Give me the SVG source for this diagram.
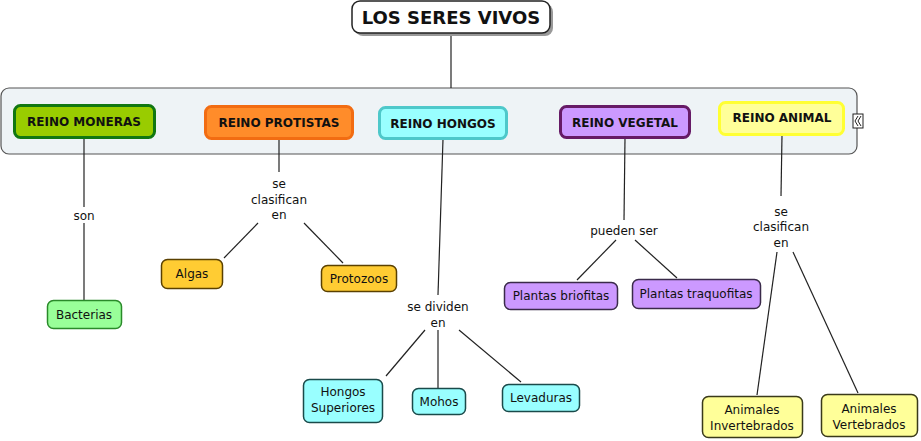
<svg xmlns="http://www.w3.org/2000/svg" width="921" height="441" viewBox="0 0 921 441">
<style>
text{font-family:"DejaVu Sans","Verdana",sans-serif;fill:#111;text-anchor:middle}
.lbl{font-size:12px}
.nt{font-size:12px}
.rt{font-size:12px;font-weight:bold}
.conn line{stroke:#222;stroke-width:1.2}
.rn{stroke-width:3}
.n{stroke-width:1.5}
</style>
<rect x="0" y="0" width="921" height="441" fill="#fff"/>
<g id="container">
<rect x="1" y="88" width="856" height="66" rx="8" fill="#eef3f6" stroke="#555" stroke-width="1.2"/>
<rect x="853" y="114" width="10" height="14" fill="#fff" stroke="#222" stroke-width="1"/>
<path d="M858 116 L855 121 L858 126 M861 116 L858 121 L861 126" fill="none" stroke="#222" stroke-width="1"/>
</g>
<g class="conn" id="connectors">
<line x1="451" y1="34" x2="451" y2="88"/>
<line x1="84" y1="138" x2="84" y2="207"/>
<line x1="84" y1="223" x2="84" y2="300"/>
<line x1="279" y1="139" x2="279" y2="172"/>
<line x1="258" y1="223" x2="224" y2="258"/>
<line x1="304" y1="223" x2="343" y2="263"/>
<line x1="443" y1="139" x2="438" y2="295"/>
<line x1="425" y1="330" x2="386" y2="376"/>
<line x1="438" y1="330" x2="438" y2="388"/>
<line x1="459" y1="330" x2="521" y2="382"/>
<line x1="625" y1="138" x2="624" y2="220"/>
<line x1="616" y1="240" x2="577" y2="280"/>
<line x1="635" y1="240" x2="677" y2="278"/>
<line x1="782" y1="135" x2="781" y2="196"/>
<line x1="777" y1="252" x2="757" y2="395"/>
<line x1="793" y1="252" x2="858" y2="393"/>
</g>
<g id="labels">
<text class="lbl" x="84" y="220">son</text>
<text class="lbl" x="279" y="188">se</text>
<text class="lbl" x="279" y="204">clasifican</text>
<text class="lbl" x="279" y="219">en</text>
<text class="lbl" x="438" y="311">se dividen</text>
<text class="lbl" x="438" y="327">en</text>
<text class="lbl" x="624" y="235">pueden ser</text>
<text class="lbl" x="781" y="216">se</text>
<text class="lbl" x="781" y="231">clasifican</text>
<text class="lbl" x="781" y="247">en</text>
</g>
<g id="title">
<rect x="355" y="4" width="198" height="32" rx="8" fill="#999"/>
<rect x="352" y="1" width="198" height="32" rx="8" fill="#fff" stroke="#222" stroke-width="1.5"/>
<text x="451" y="24" style="font-size:18px;font-weight:bold">LOS SERES VIVOS</text>
</g>
<g id="moneras"><rect class="rn" x="14.5" y="105.5" width="140" height="32" rx="6" fill="#99cc00" stroke="#117711"/><text class="rt" x="84" y="126">REINO MONERAS</text></g>
<g id="protistas"><rect class="rn" x="205.5" y="106.5" width="147" height="32" rx="6" fill="#ff8c2a" stroke="#f26c12"/><text class="rt" x="279" y="127">REINO PROTISTAS</text></g>
<g id="hongos"><rect class="rn" x="379.5" y="107.5" width="127" height="31" rx="6" fill="#99ffff" stroke="#4ec8ca"/><text class="rt" x="443" y="128">REINO HONGOS</text></g>
<g id="vegetal"><rect class="rn" x="560.5" y="106.5" width="129" height="31" rx="6" fill="#cc99ff" stroke="#661a66"/><text class="rt" x="625" y="127">REINO VEGETAL</text></g>
<g id="animal"><rect class="rn" x="719.5" y="102.5" width="124" height="32" rx="6" fill="#ffff99" stroke="#ffff33"/><text class="rt" x="782" y="122">REINO ANIMAL</text></g>
<g id="bacterias"><rect class="n" x="47.5" y="300.5" width="74" height="28" rx="6" fill="#99ff99" stroke="#2a8a2a"/><text class="nt" x="84" y="319">Bacterias</text></g>
<g id="algas"><rect class="n" x="161.5" y="259.5" width="61" height="29" rx="6" fill="#ffcc33" stroke="#5a4000"/><text class="nt" x="192" y="278">Algas</text></g>
<g id="protozoos"><rect class="n" x="321.5" y="265.5" width="75" height="26" rx="6" fill="#ffcc33" stroke="#5a4000"/><text class="nt" x="359" y="283">Protozoos</text></g>
<g id="hongos-superiores"><rect class="n" x="303.5" y="379.5" width="79" height="43" rx="6" fill="#99ffff" stroke="#1a4a4a"/><text class="nt" x="343" y="396">Hongos</text><text class="nt" x="343" y="412">Superiores</text></g>
<g id="mohos"><rect class="n" x="412.5" y="388.5" width="53" height="26" rx="6" fill="#99ffff" stroke="#1a4a4a"/><text class="nt" x="439" y="406">Mohos</text></g>
<g id="levaduras"><rect class="n" x="502.5" y="384.5" width="77" height="27" rx="6" fill="#99ffff" stroke="#1a4a4a"/><text class="nt" x="541" y="402">Levaduras</text></g>
<g id="briofitas"><rect class="n" x="504.5" y="282.5" width="113" height="27" rx="6" fill="#cc99ff" stroke="#3a2a4a"/><text class="nt" x="561" y="300">Plantas briofitas</text></g>
<g id="traquofitas"><rect class="n" x="632.5" y="279.5" width="128" height="29" rx="6" fill="#cc99ff" stroke="#3a2a4a"/><text class="nt" x="696" y="298">Plantas traquofitas</text></g>
<g id="invertebrados"><rect class="n" x="702.5" y="396.5" width="100" height="41" rx="6" fill="#ffff99" stroke="#3a3a1a"/><text class="nt" x="752" y="414">Animales</text><text class="nt" x="752" y="430">Invertebrados</text></g>
<g id="vertebrados"><rect class="n" x="821.5" y="394.5" width="96" height="42" rx="6" fill="#ffff99" stroke="#3a3a1a"/><text class="nt" x="869" y="413">Animales</text><text class="nt" x="869" y="429">Vertebrados</text></g>
</svg>
